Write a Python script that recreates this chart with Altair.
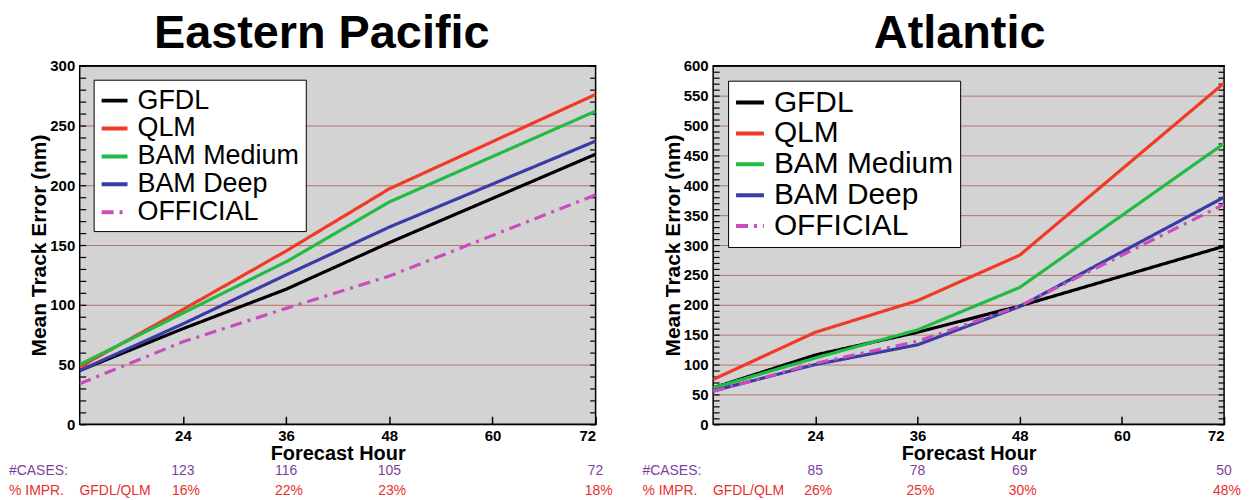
import altair as alt
import pandas as pd

hours = [12, 24, 36, 48, 72]
models = ["GFDL", "QLM", "BAM Medium", "BAM Deep", "OFFICIAL"]
colors = ["#000000", "#f03a26", "#22bb44", "#3b3ba8", "#c94dbd"]
dashes = [[1, 0], [1, 0], [1, 0], [1, 0], [12, 6, 3, 6]]

epac_gfdl = [45, 80, 113, 152, 226]
epac_qlm = [48, 96, 145, 197, 276]
epac_bamm = [50, 93, 136, 186, 262]
epac_bamd = [45, 84, 125, 165, 237]
epac_ofcl = [34, 69, 97, 124, 192]

atl_gfdl = [61, 116, 154, 198, 298]
atl_qlm = [75, 154, 207, 283, 571]
atl_bamm = [61, 111, 158, 229, 470]
atl_bamd = [56, 100, 133, 197, 380]
atl_ofcl = [55, 102, 139, 198, 368]

case_hours = [24, 36, 48, 72]
epac_cases = [123, 116, 105, 72]
epac_impr = ["16%", "22%", "23%", "18%"]
atl_cases = [85, 78, 69, 50]
atl_impr = ["26%", "25%", "30%", "48%"]

x_ticks = [24, 36, 48, 60, 72]
FONT = "Liberation Sans"
H = 360
IMPR_LABEL = "% IMPR.\u00a0\u00a0\u00a0\u00a0GFDL/QLM"


def panel(title, series, ymax, cases, impr, width, lfont, lsym, lrow, loffset, tdx):
    rows = []
    for m, vals in zip(models, series):
        for h, v in zip(hours, vals):
            rows.append({"hour": h, "error": v, "model": m})
    df = pd.DataFrame(rows)
    xs = alt.Scale(domain=[12, 72], nice=False, zero=False)
    ys = alt.Scale(domain=[0, ymax], nice=False)
    leg = alt.Legend(
        title=None, orient="top-left", offset=loffset, fillColor="white",
        strokeColor="black", padding=6, labelFontSize=lfont, labelFont=FONT,
        labelColor="black", symbolType="stroke", symbolSize=lsym ** 2,
        symbolStrokeWidth=4, labelOffset=8, rowPadding=lrow, labelLimit=400,
    )
    lines = alt.Chart(df).mark_line(strokeWidth=3.2, clip=True).encode(
        x=alt.X("hour:Q", scale=xs, axis=alt.Axis(
            values=x_ticks, title="Forecast Hour", ticks=False, domain=False,
            grid=False, labelFont=FONT, labelFontSize=15, labelFontWeight="bold",
            labelColor="black", labelPadding=4, titleFont=FONT, titleFontSize=20,
            titleFontWeight="bold", titleColor="black", titlePadding=0)),
        y=alt.Y("error:Q", scale=ys, axis=alt.Axis(
            values=list(range(0, ymax + 1, 50)), title="Mean Track Error (nm)",
            ticks=False, domain=False, grid=True,
            gridColor={"condition": {"test": f"datum.value === 0 || datum.value === {ymax}",
                                     "value": "black"}, "value": "#b4726c"},
            gridWidth=1, labelFont=FONT, labelFontSize=15, labelFontWeight="bold",
            labelColor="black", labelPadding=5, titleFont=FONT, titleFontSize=21,
            titleFontWeight="bold", titleColor="black", titlePadding=0)),
        color=alt.Color("model:N", sort=models,
                        scale=alt.Scale(domain=models, range=colors), legend=leg),
        strokeDash=alt.StrokeDash("model:N", sort=models,
                                  scale=alt.Scale(domain=models, range=dashes), legend=leg),
    )
    ticks_l = alt.Chart(df).mark_point(opacity=0).encode(
        x=alt.X("hour:Q", scale=xs, axis=alt.Axis(
            values=x_ticks, orient="bottom", offset=-8, tickSize=8, labels=False,
            domain=False, grid=False, title=None, tickColor="black", tickWidth=1.5)),
        y=alt.Y("error:Q", scale=ys, axis=alt.Axis(
            values=list(range(0, ymax + 1, 10)), orient="left", offset=-6, tickSize=6,
            labels=False, domain=False, grid=False, title=None, tickColor="black",
            tickWidth=1.2)),
    )
    ticks_r = alt.Chart(df).mark_point(opacity=0).encode(
        x=alt.X("hour:Q", scale=xs, axis=None),
        y=alt.Y("error:Q", scale=ys, axis=alt.Axis(
            values=list(range(0, ymax + 1, 10)), orient="right", offset=-6, tickSize=6,
            labels=False, domain=False, grid=False, title=None, tickColor="black",
            tickWidth=1.2)),
    )
    cdf = pd.DataFrame({"hour": case_hours, "cases": cases, "impr": impr})
    cases_t = alt.Chart(cdf).mark_text(
        fontSize=14, font=FONT, color="#7e3f9c", baseline="middle").encode(
        x=alt.X("hour:Q", scale=xs, axis=None), y=alt.value(H + 47), text="cases:N")
    impr_t = alt.Chart(cdf).mark_text(
        fontSize=14, font=FONT, color="#e8302a", baseline="middle", dx=3).encode(
        x=alt.X("hour:Q", scale=xs, axis=None), y=alt.value(H + 67), text="impr:N")
    lab1 = alt.Chart(pd.DataFrame({"t": ["#CASES:"]})).mark_text(
        fontSize=14, font=FONT, color="#7e3f9c", baseline="middle", align="left").encode(
        x=alt.value(-71), y=alt.value(H + 47), text="t:N")
    lab2 = alt.Chart(pd.DataFrame({"t": [IMPR_LABEL]})).mark_text(
        fontSize=14, font=FONT, color="#e8302a", baseline="middle", align="left").encode(
        x=alt.value(-71), y=alt.value(H + 67), text="t:N")
    return alt.layer(lines, ticks_l, ticks_r, cases_t, impr_t, lab1, lab2).resolve_axis(
        x="independent", y="independent").properties(
        width=width, height=H,
        title=alt.Title(title, fontSize=47, fontWeight="bold", font=FONT,
                        anchor="middle", offset=1, dx=tdx, color="black"))


left = panel("Eastern Pacific", [epac_gfdl, epac_qlm, epac_bamm, epac_bamd, epac_ofcl],
             300, epac_cases, epac_impr, 518, 27, 26, 0, 14, -16)
right = panel("Atlantic", [atl_gfdl, atl_qlm, atl_bamm, atl_bamd, atl_ofcl],
              600, atl_cases, atl_impr, 513, 30, 28, 0, 15, -9)

chart = alt.hconcat(left, right, spacing=118, bounds="flush").resolve_scale(
    x="independent", y="independent", color="independent", strokeDash="independent"
).resolve_legend(color="independent", strokeDash="independent").properties(
    padding=0
).configure_view(fill="#d3d3d3", stroke="black", strokeWidth=1.5)

chart.save("out.html", embed_options={"renderer": "svg", "actions": False})
